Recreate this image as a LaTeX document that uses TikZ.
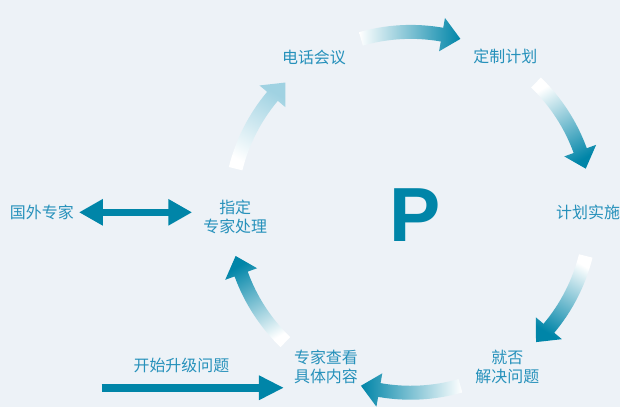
\documentclass[tikz,border=0pt]{standalone}
\usepackage{fontspec}
\setmainfont{Liberation Sans}
\newfontfamily\cjk{Noto Sans CJK SC}
\usetikzlibrary{arrows.meta}
\definecolor{bgblue}{RGB}{237,242,247}
\definecolor{darkteal}{RGB}{0,133,168}
\definecolor{textteal}{RGB}{38,145,187}
\definecolor{lightteal}{RGB}{160,210,226}

\begin{document}
\begin{tikzpicture}[x=1pt,y=1pt,
    lbl/.style={text=textteal,font=\cjk\fontsize{16}{19}\selectfont,align=center,inner sep=2pt},
    bigarrow/.style={draw=darkteal,line width=7pt}]
  \fill[bgblue] (0,0) rectangle (622,408);
  % the cycle of curved arrows
  \begin{scope}[shift={(412,195)}]
    \foreach \a/\c in {90/darkteal,30/darkteal,-30/darkteal,-90/darkteal,-150/darkteal,150/lightteal}
      \shade[top color=white,bottom color=\c,shading angle=\a]
        (\a+16:188) arc[start angle=\a+16,end angle=\a-10,radius=188]
        -- (\a-10:198) -- (\a-16:181) -- (\a-10:164) -- (\a-10:174)
        arc[start angle=\a-10,end angle=\a+16,radius=174] -- cycle;
  \end{scope}
  \node[lbl] (dianhua) at (315,350) {电话会议};
  \node[lbl] (dingzhi) at (507,351) {定制计划};
  \node[lbl] (shishi)  at (590,195) {计划实施};
  \node[lbl] (jiejue)  at (509,40)  {就否\\解决问题};
  \node[lbl] (chakan)  at (327,40)  {专家查看\\具体内容};
  \node[lbl] (zhiding) at (236,190) {指定\\专家处理};
  \node[lbl] (guowai)  at (42,195)  {国外专家};
  \node[text=darkteal,font=\fontsize{77}{77}\selectfont\bfseries] (p) at (416,192) {P};
  % straight arrows
  \draw[bigarrow,{Triangle[length=24pt,width=25pt]}-{Triangle[length=24pt,width=25pt]}]
    ([xshift=3pt]guowai.east) -- ([xshift=-9pt]guowai.east -| zhiding.west);
  \coordinate (start) at (102,19);
  \draw[bigarrow,line width=8pt,-{Triangle[length=25pt,width=23pt]}] (start) -- ([xshift=-8pt]start -| chakan.west);
  \node[lbl] (shengji) at (182,41) {开始升级问题};
\end{tikzpicture}
\end{document}
